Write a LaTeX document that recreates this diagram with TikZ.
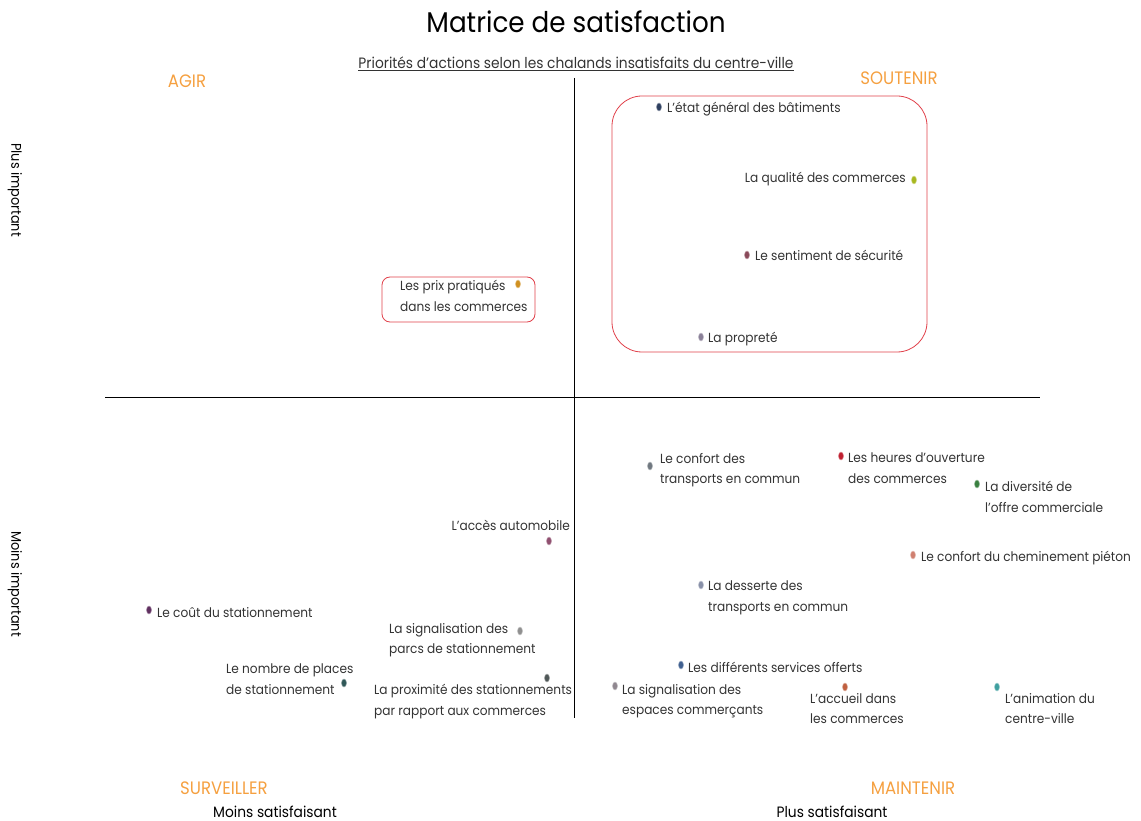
\documentclass[tikz,border=0pt]{standalone}
\usepackage{fontspec}
\setmainfont{Poppins}[FakeStretch=0.92]
\usetikzlibrary{shapes.geometric}
\definecolor{orq}{HTML}{F5A040}
\definecolor{boxred}{HTML}{E0404A}
\definecolor{txt}{HTML}{333333}
\definecolor{cEtat}{HTML}{2F4060}
\definecolor{cQual}{HTML}{A8B820}
\definecolor{cSecu}{HTML}{8A4A5A}
\definecolor{cProp}{HTML}{8A8098}
\definecolor{cPrix}{HTML}{D09020}
\definecolor{cConf}{HTML}{707880}
\definecolor{cHeur}{HTML}{C02030}
\definecolor{cDive}{HTML}{3A8040}
\definecolor{cAcces}{HTML}{905070}
\definecolor{cChem}{HTML}{D08070}
\definecolor{cDess}{HTML}{8890A8}
\definecolor{cCout}{HTML}{603060}
\definecolor{cSigP}{HTML}{909090}
\definecolor{cNomb}{HTML}{305858}
\definecolor{cProx}{HTML}{505858}
\definecolor{cServ}{HTML}{406090}
\definecolor{cSigE}{HTML}{908890}
\definecolor{cAccu}{HTML}{C06040}
\definecolor{cAnim}{HTML}{40A0A0}
\tikzset{
  lbl/.style={inner sep=0pt, anchor=north west, align=left, text=txt, font=\fontsize{13.2}{20.5}\selectfont},
  lblr/.style={lbl, anchor=north east, align=right},
  dot/.style={ellipse, inner sep=0pt, minimum width=5pt, minimum height=8pt, fill=#1, draw=#1!55!white, line width=0.5pt},
  quad/.style={text=orq, font=\fontsize{18}{20}\selectfont},
  axis/.style={line width=0.9pt, black},
  zone/.style={draw=boxred, line width=0.8pt},
}
\begin{document}
\begin{tikzpicture}[x=1pt,y=-1pt]
\useasboundingbox (0,0) rectangle (1141,821);
% title
\node (title) at (576,22) {\fontsize{28.5}{30}\selectfont Matrice de satisfaction};
\node[text=txt] (sub) at (576,64) {\fontsize{15}{17}\selectfont\underline{Priorités d'actions selon les chalands insatisfaits du centre-ville}};
% axes
\coordinate (vt) at (574,78); \coordinate (vb) at (574,718);
\coordinate (hl) at (105,397); \coordinate (hr) at (1040,397);
\draw[axis] (vt) -- (vb);
\draw[axis] (hl) -- (hr);
% quadrant labels
\node[quad] (agir) at (187,81) {AGIR};
\node[quad] (soutenir) at (899,78) {SOUTENIR};
\node[quad] (surveiller) at (224,788) {SURVEILLER};
\node[quad] (maintenir) at (913,788) {MAINTENIR};
\node[font=\fontsize{15}{17}\selectfont] (ms) at (275,812) {Moins satisfaisant};
\node[font=\fontsize{15}{17}\selectfont] (ps) at (832,812) {Plus satisfaisant};
\node[rotate=-90, font=\fontsize{14}{16}\selectfont] (pi) at (15,190) {Plus important};
\node[rotate=-90, font=\fontsize{14}{16}\selectfont] (mi) at (15,584) {Moins important};
% zones
\draw[zone, rounded corners=30pt] (612,96) rectangle (927,352);
\draw[zone, rounded corners=8pt] (382,277) rectangle (535,322);
% ---- points: upper quadrants
\node[dot=cEtat] (dEtat) at (659,107) {};
\node[lbl] (tEtat) at (667,102) {L'état général des bâtiments};
\node[dot=cQual] (dQual) at (914,180) {};
\node[lblr] (tQual) at (906,172) {La qualité des commerces};
\node[dot=cSecu] (dSecu) at (747,255) {};
\node[lbl] (tSecu) at (755,250) {Le sentiment de sécurité};
\node[dot=cProp] (dProp) at (701,337) {};
\node[lbl] (tProp) at (708,332) {La propreté};
\node[dot=cPrix] (dPrix) at (518,284) {};
\node[lbl] (tPrix) at (400,280) {Les prix pratiqués\\dans les commerces};
% ---- lower right
\node[dot=cConf] (dConf) at (650,466) {};
\node[lbl] (tConf) at (660,453) {Le confort des\\transports en commun};
\node[dot=cHeur] (dHeur) at (841,456) {};
\node[lbl] (tHeur) at (848,453) {Les heures d'ouverture\\des commerces};
\node[dot=cDive] (dDive) at (977,484) {};
\node[lbl] (tDive) at (985,481) {La diversité de\\l'offre commerciale};
\node[dot=cChem] (dChem) at (913,555) {};
\node[lbl] (tChem) at (921,551) {Le confort du cheminement piéton};
\node[dot=cDess] (dDess) at (701,585) {};
\node[lbl] (tDess) at (708,581) {La desserte des\\transports en commun};
\node[dot=cServ] (dServ) at (681,665) {};
\node[lbl] (tServ) at (688,662) {Les différents services offerts};
\node[dot=cSigE] (dSigE) at (615,686) {};
\node[lbl] (tSigE) at (622,684) {La signalisation des\\espaces commerçants};
\node[dot=cAccu] (dAccu) at (845,687) {};
\node[lbl] (tAccu) at (810,693) {L'accueil dans\\les commerces};
\node[dot=cAnim] (dAnim) at (997,687) {};
\node[lbl] (tAnim) at (1005,693) {L'animation du\\centre-ville};
% ---- lower left
\node[dot=cAcces] (dAcces) at (549,541) {};
\node[lblr] (tAcces) at (570,520) {L'accès automobile};
\node[dot=cCout] (dCout) at (149,610) {};
\node[lbl] (tCout) at (157,607) {Le coût du stationnement};
\node[dot=cSigP] (dSigP) at (520,631) {};
\node[lbl] (tSigP) at (389,623) {La signalisation des\\parcs de stationnement};
\node[dot=cNomb] (dNomb) at (344,683) {};
\node[lbl] (tNomb) at (226,664) {Le nombre de places\\de stationnement};
\node[dot=cProx] (dProx) at (547,678) {};
\node[lbl] (tProx) at (374,684) {La proximité des stationnements\\par rapport aux commerces};
\end{tikzpicture}
\end{document}
